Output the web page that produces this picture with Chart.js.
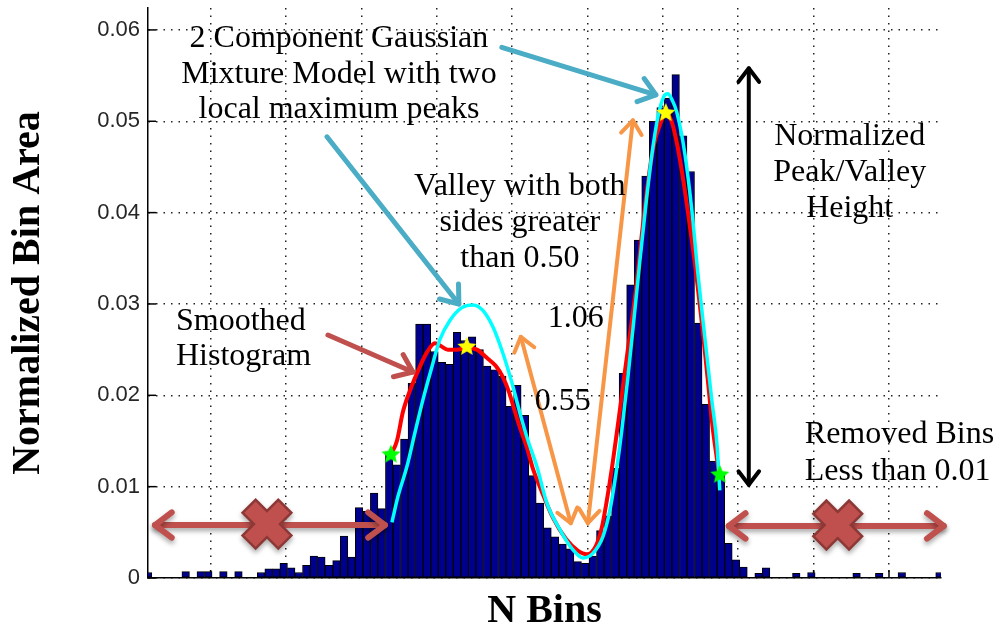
<!DOCTYPE html>
<html lang="en">
<head>
<meta charset="UTF-8">
<title>Normalized Bin Area</title>
<script src="https://cdn.jsdelivr.net/npm/chart.js"></script>
<style>
    body { margin: 0; background: #fff; }
    #wrap { width: 997px; height: 635px; }
</style>
</head>
<body>
<div id="wrap"><canvas id="histChart" width="997" height="635"></canvas></div>
<script>
// histogram bins: one unit per bin, first bin centred at firstBin
const firstBin = 1.7;
const binHeights = [
    0.0006, 0, 0, 0, 0, 0.0007, 0, 0.0007, 0.0007, 0,
    0.0007, 0, 0.0007, 0, 0, 0.0006, 0.0010, 0.0010, 0.0016, 0.0011,
    0.0006, 0.0014, 0.0024, 0.0023, 0.0014, 0.0019, 0.0046, 0.0023, 0.0077, 0.0073,
    0.0093, 0.0076, 0.0138, 0.0124, 0.0152, 0.0213, 0.0278, 0.0278, 0.0248, 0.0236,
    0.0234, 0.0269, 0.0260, 0.0264, 0.0250, 0.0232, 0.0228, 0.0221, 0.0188, 0.0211,
    0.0178, 0.0112, 0.0082, 0.0055, 0.0045, 0.0037, 0.0032, 0.0018, 0.0016, 0.0024,
    0.0052, 0.0068, 0.0120, 0.0224, 0.0321, 0.0370, 0.0440, 0.0500, 0.0515, 0.0525,
    0.0551, 0.0484, 0.0445, 0.0279, 0.0190, 0.0128, 0.0115, 0.0038, 0.0020, 0.0012,
    0, 0.0005, 0.0011, 0, 0, 0, 0.0005, 0, 0.0006, 0,
    0, 0, 0, 0, 0.0005, 0, 0, 0.0005, 0, 0,
    0.0006, 0, 0, 0, 0, 0.0006
];

const xMin = 1.7, xMax = 106.9;
const xTicks = [10, 20, 30, 40, 50, 60, 70, 80, 90, 100];
const yTicks = [0, 0.01, 0.02, 0.03, 0.04, 0.05, 0.06];

// smoothed histogram (red)
const smoothedX = [33.92, 34.72, 35.52, 36.58, 37.64, 38.70, 39.76, 40.55, 41.48, 42.68,
    44.00, 45.33, 46.65, 47.85, 48.78, 49.57, 50.24, 51.03, 51.96, 52.75,
    53.68, 55.41, 57.13, 58.72, 59.92, 61.11, 61.90, 62.57, 63.36, 64.16,
    64.82, 65.62, 66.41, 67.21, 68.01, 68.80, 69.60, 70.39, 71.19, 71.98,
    72.78, 73.57, 74.37, 75.17, 75.96, 76.62, 77.45];
const smoothedY = [0.0135, 0.0150, 0.0182, 0.0208, 0.0229, 0.0247, 0.0257, 0.0254, 0.0250, 0.0250,
    0.0252, 0.0250, 0.0241, 0.0232, 0.0220, 0.0204, 0.0186, 0.0165, 0.0143, 0.0120,
    0.0100, 0.0066, 0.0043, 0.0030, 0.0026, 0.0035, 0.0055, 0.0085, 0.0127, 0.0175,
    0.0217, 0.0266, 0.0315, 0.0376, 0.0432, 0.0474, 0.0496, 0.0509, 0.0499, 0.0471,
    0.0432, 0.0386, 0.0337, 0.0280, 0.0217, 0.0164, 0.0115];

// two component gaussian mixture fit (cyan)
const gmmX = [34.06, 34.85, 36.05, 37.11, 38.17, 39.36, 40.42, 41.75, 43.34, 44.80,
    46.12, 47.45, 48.78, 49.97, 51.03, 52.09, 53.29, 54.61, 56.34, 58.06,
    59.39, 60.71, 62.04, 62.97, 63.76, 64.56, 65.35, 66.15, 66.94, 67.74,
    68.54, 69.33, 70.13, 70.66, 71.19, 71.85, 72.91, 73.84, 74.64, 75.56,
    76.49, 77.16, 77.55];
const gmmY = [0.0061, 0.0089, 0.0122, 0.0159, 0.0195, 0.0231, 0.0261, 0.0282, 0.0296, 0.0299,
    0.0293, 0.0275, 0.0246, 0.0214, 0.0181, 0.0151, 0.0122, 0.0082, 0.0053, 0.0031,
    0.0022, 0.0027, 0.0045, 0.0074, 0.0113, 0.0162, 0.0219, 0.0282, 0.0346, 0.0408,
    0.0463, 0.0504, 0.0527, 0.0530, 0.0524, 0.0510, 0.0465, 0.0403, 0.0334, 0.0264,
    0.0195, 0.0148, 0.0096];

// smoothing window ends (green) and local maxima (yellow)
const boundX = [33.92, 77.55];
const boundY = [0.0135, 0.0113];
const peakX = [44.00, 70.39];
const peakY = [0.0253, 0.0509];

const zip = (xs, ys) => xs.map((x, i) => ({ x: x, y: ys[i] }));
const bins = binHeights.map((h, i) => ({ x: firstBin + i, y: h }));

// callouts drawn over the plot, in axis units
const TEAL = '#4bacc6', BRICK = '#c0504d', ORANGE = '#f79646';
const arrows = [
    { from: [48.64, 0.0581], to: [69.07, 0.0529], color: TEAL, width: 5, both: false, head: 20 },
    { from: [25.44, 0.0483], to: [42.94, 0.0300], color: TEAL, width: 5, both: false, head: 20 },
    { from: [25.57, 0.0266], to: [36.84, 0.02255], color: BRICK, width: 5, both: false, head: 20 },
    { from: [51.16, 0.0264], to: [57.79, 0.0060], color: ORANGE, width: 4, both: true, head: 17 },
    { from: [66.02, 0.0501], to: [60.05, 0.0060], color: ORANGE, width: 4, both: true, head: 17 },
    { from: [81.40, 0.0558], to: [81.40, 0.0102], color: '#000', width: 4, both: true, head: 17 },
    { from: [2.63, 0.0058], to: [33.13, 0.0058], color: BRICK, width: 6, both: true, head: 21, shadow: true },
    { from: [78.75, 0.0057], to: [107.26, 0.0057], color: BRICK, width: 6, both: true, head: 21, shadow: true }
];
const crosses = [[17.48, 0.0059], [93.2, 0.0058]];
const notes = [
    { lines: ['2 Component Gaussian', 'Mixture Model with two', 'local maximum peaks'], at: [27.03, 0.0581], align: 'center', lh: 35.5 },
    { lines: ['Valley with both', 'sides greater', 'than 0.50'], at: [51.03, 0.0419], align: 'center', lh: 36 },
    { lines: ['Normalized', 'Peak/Valley', 'Height'], at: [94.79, 0.0474], align: 'center', lh: 36 },
    { lines: ['Smoothed', 'Histogram'], at: [5.41, 0.0272], align: 'left', lh: 35 },
    { lines: ['1.06'], at: [54.74, 0.0275], align: 'left', lh: 0 },
    { lines: ['0.55'], at: [53.02, 0.0184], align: 'left', lh: 0 },
    { lines: ['Removed Bins', 'Less than 0.01'], at: [88.83, 0.0148], align: 'left', lh: 37 }
];

function starImage(fill) {
    const c = document.createElement('canvas');
    c.width = c.height = 22;
    const g = c.getContext('2d');
    g.beginPath();
    for (let k = 0; k < 10; k++) {
        const r = k % 2 ? 4.6 : 10;
        const a = -Math.PI / 2 + k * Math.PI / 5;
        g.lineTo(11 + r * Math.cos(a), 11 + r * Math.sin(a));
    }
    g.closePath();
    g.fillStyle = fill;
    g.fill();
    return c;
}

function head(ctx, tx, ty, ang, len) {
    ctx.beginPath();
    ctx.moveTo(tx - len * Math.cos(ang - 0.65), ty - len * Math.sin(ang - 0.65));
    ctx.lineTo(tx, ty);
    ctx.lineTo(tx - len * Math.cos(ang + 0.65), ty - len * Math.sin(ang + 0.65));
    ctx.stroke();
}

function cross(ctx, cx, cy) {
    const L = 24, W = 8;
    ctx.save();
    ctx.translate(cx, cy);
    ctx.rotate(Math.PI / 4);
    ctx.shadowColor = 'rgba(0,0,0,0.35)';
    ctx.shadowBlur = 5;
    ctx.shadowOffsetY = 3;
    ctx.lineWidth = 5;
    ctx.lineJoin = 'miter';
    ctx.strokeStyle = '#8c3836';
    ctx.beginPath();
    ctx.rect(-L, -W, 2 * L, 2 * W);
    ctx.rect(-W, -L, 2 * W, 2 * L);
    ctx.stroke();
    ctx.shadowColor = 'transparent';
    ctx.fillStyle = BRICK;
    ctx.fillRect(-L, -W, 2 * L, 2 * W);
    ctx.fillRect(-W, -L, 2 * W, 2 * L);
    ctx.restore();
}

const callouts = {
    id: 'callouts',
    beforeDatasetsDraw(chart) {
        // short inward tick marks like the original axes
        const { ctx, chartArea: a, scales } = chart;
        ctx.save();
        ctx.strokeStyle = '#000';
        ctx.lineWidth = 1.5;
        yTicks.forEach(v => {
            const y = scales.y.getPixelForValue(v);
            ctx.beginPath(); ctx.moveTo(a.left, y); ctx.lineTo(a.left + 8, y); ctx.stroke();
        });
        xTicks.forEach(v => {
            const x = scales.x.getPixelForValue(v);
            ctx.beginPath(); ctx.moveTo(x, a.bottom); ctx.lineTo(x, a.bottom - 8); ctx.stroke();
        });
        ctx.restore();
    },
    afterDatasetsDraw(chart) {
        const { ctx, scales } = chart;
        const P = p => [scales.x.getPixelForValue(p[0]), scales.y.getPixelForValue(p[1])];
        ctx.save();
        arrows.forEach(ar => {
            const [x1, y1] = P(ar.from), [x2, y2] = P(ar.to);
            ctx.save();
            ctx.strokeStyle = ar.color;
            ctx.lineWidth = ar.width;
            ctx.lineCap = 'round';
            ctx.lineJoin = 'round';
            if (ar.shadow) {
                ctx.shadowColor = 'rgba(0,0,0,0.35)';
                ctx.shadowBlur = 5;
                ctx.shadowOffsetY = 3;
            }
            ctx.beginPath(); ctx.moveTo(x1, y1); ctx.lineTo(x2, y2); ctx.stroke();
            const ang = Math.atan2(y2 - y1, x2 - x1);
            head(ctx, x2, y2, ang, ar.head);
            if (ar.both) head(ctx, x1, y1, ang + Math.PI, ar.head);
            ctx.restore();
        });
        crosses.forEach(c => { const [x, y] = P(c); cross(ctx, x, y); });

        ctx.fillStyle = '#000';
        ctx.font = '32px "Liberation Serif", "Times New Roman", serif';
        ctx.textBaseline = 'alphabetic';
        notes.forEach(n => {
            const [x, y] = P(n.at);
            ctx.textAlign = n.align;
            n.lines.forEach((t, i) => ctx.fillText(t, x, y + i * n.lh));
        });
        ctx.restore();
    }
};

const serifBold = { family: '"Liberation Serif", "Times New Roman", serif', size: 40, weight: 'bold' };

new Chart(document.getElementById('histChart'), {
    type: 'bar',
    data: {
        datasets: [
            {
                type: 'scatter', label: 'Local maxima', data: zip(peakX, peakY),
                pointStyle: starImage('#ffff00'), order: 1
            },
            {
                type: 'scatter', label: 'Window ends', data: zip(boundX, boundY),
                pointStyle: starImage('#00ff00'), order: 1
            },
            {
                type: 'line', label: 'Gaussian mixture', data: zip(gmmX, gmmY),
                borderColor: '#00ffff', borderWidth: 3.5, pointRadius: 0,
                cubicInterpolationMode: 'monotone', order: 2
            },
            {
                type: 'line', label: 'Smoothed histogram', data: zip(smoothedX, smoothedY),
                borderColor: '#ff0000', borderWidth: 4, pointRadius: 0,
                cubicInterpolationMode: 'monotone', order: 3
            },
            {
                type: 'bar', label: 'Bins', data: bins,
                backgroundColor: '#00008f', borderColor: '#000', borderWidth: 1,
                borderSkipped: false, barPercentage: 1, categoryPercentage: 1, order: 4
            }
        ]
    },
    options: {
        responsive: false,
        animation: false,
        events: [],
        layout: { padding: { left: 0, top: 8, right: 56, bottom: 0 } },
        plugins: { legend: { display: false }, tooltip: { enabled: false } },
        scales: {
            x: {
                type: 'linear', min: xMin, max: xMax, offset: false,
                afterBuildTicks: s => { s.ticks = xTicks.map(v => ({ value: v })); },
                afterFit: s => { s.height = 57; s.paddingLeft = 0; s.paddingRight = 0; },
                ticks: { display: false },
                grid: { color: '#222', lineWidth: 1.5, drawTicks: false, offset: false },
                border: { display: true, color: '#000', width: 1.5, dash: [1.5, 6] },
                title: { display: true, text: 'N Bins', color: '#000', font: serifBold, padding: { bottom: -1 } }
            },
            y: {
                min: 0, max: 0.0624,
                afterBuildTicks: s => { s.ticks = yTicks.map(v => ({ value: v })); },
                afterFit: s => { s.width = 148; s.paddingTop = 0; s.paddingBottom = 0; },
                ticks: {
                    color: '#262626', padding: 8,
                    font: { family: '"Liberation Sans", Arial, sans-serif', size: 22 },
                    callback: v => v === 0 ? '0' : v.toFixed(2)
                },
                grid: { color: '#222', lineWidth: 1.5, drawTicks: false },
                border: { display: true, color: '#000', width: 1.5, dash: [1.5, 6] },
                title: { display: true, text: 'Normalized Bin Area', color: '#000', font: serifBold, padding: { top: 5 } }
            }
        }
    },
    plugins: [callouts]
});
</script>
</body>
</html>
